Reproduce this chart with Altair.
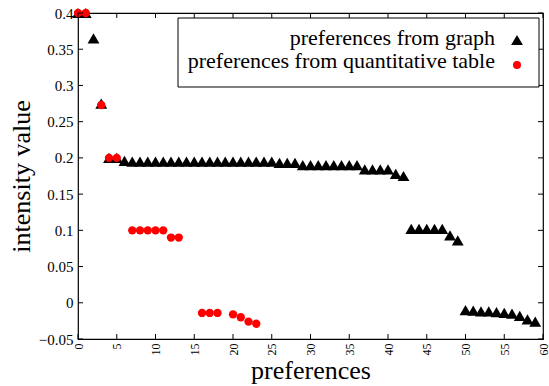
import altair as alt
import pandas as pd

# ---- data ----
graph_x = list(range(60))
graph_y = [0.4, 0.4, 0.365, 0.275, 0.2, 0.2, 0.196,
           0.195, 0.195, 0.195, 0.195, 0.195, 0.195, 0.195, 0.195, 0.195, 0.195,
           0.195, 0.195, 0.195, 0.195, 0.195, 0.195, 0.195, 0.195, 0.195,
           0.193, 0.193, 0.193,
           0.19, 0.19, 0.19, 0.19, 0.19, 0.19, 0.19, 0.19,
           0.184, 0.184, 0.184, 0.184,
           0.178, 0.175,
           0.102, 0.102, 0.102, 0.102, 0.102,
           0.093, 0.086,
           -0.01, -0.011, -0.012, -0.012, -0.013, -0.014, -0.015, -0.018, -0.023, -0.026]

table_x = [0, 1, 3, 4, 5, 7, 8, 9, 10, 11, 12, 13, 16, 17, 18, 20, 21, 22, 23]
table_y = [0.4, 0.4, 0.273, 0.2, 0.2, 0.1, 0.1, 0.1, 0.1, 0.1, 0.09, 0.09,
           -0.014, -0.014, -0.014, -0.016, -0.02, -0.026, -0.029]

x_ticks = list(range(0, 61, 5))
y_ticks = [-0.05, 0.0, 0.05, 0.1, 0.15, 0.2, 0.25, 0.3, 0.35, 0.4]
legend_labels = ["preferences from graph", "preferences from quantitative table"]

FONT = "Liberation Serif"
W, H = 465, 326

graph_df = pd.DataFrame({"x": graph_x, "y": graph_y})
table_df = pd.DataFrame({"x": table_x, "y": table_y})
xt_df = pd.DataFrame({"x": x_ticks})
yt_df = pd.DataFrame({"y": y_ticks})

xscale = alt.Scale(domain=[0, 60], nice=False, zero=False)
yscale = alt.Scale(domain=[-0.05, 0.4], nice=False, zero=False)

xaxis = alt.Axis(values=x_ticks, labelAngle=-90, labelFont=FONT, labelFontSize=12,
                 labelColor="black", ticks=False, tickSize=0, domain=False, grid=False,
                 labelPadding=4, labelFlush=False, labelOverlap=False,
                 title="preferences",
                 titleFont=FONT, titleFontSize=26, titleFontWeight="normal",
                 titleColor="black", titleBaseline="alphabetic", titleY=39)
yaxis = alt.Axis(values=y_ticks, labelFont=FONT, labelFontSize=15, labelColor="black",
                 ticks=False, tickSize=0, domain=False, grid=False, labelPadding=5,
                 labelFlush=False, labelOverlap=False, format="~g",
                 title="intensity value", titleFont=FONT, titleFontSize=26,
                 titleFontWeight="normal", titleColor="black",
                 titleBaseline="alphabetic", titleAngle=-90, titleX=-49, titleY=H / 2,
                 titleAlign="center")

X = alt.X("x:Q", scale=xscale, axis=xaxis)
Y = alt.Y("y:Q", scale=yscale, axis=yaxis)

graph = alt.Chart(graph_df).mark_point(shape="triangle-up", filled=True, size=140,
                                      color="black", opacity=1).encode(x=X, y=Y)
table = alt.Chart(table_df).mark_point(shape="circle", filled=True, size=70,
                                      color="#ff0000", opacity=1).encode(x=X, y=Y)

tick_len = 5
xt_bottom = alt.Chart(xt_df).mark_rule(color="black", strokeWidth=1).encode(
    x=X, y=alt.value(H), y2=alt.value(H - tick_len))
xt_top = alt.Chart(xt_df).mark_rule(color="black", strokeWidth=1).encode(
    x=X, y=alt.value(0), y2=alt.value(tick_len))
yt_left = alt.Chart(yt_df).mark_rule(color="black", strokeWidth=1).encode(
    y=Y, x=alt.value(0), x2=alt.value(tick_len))
yt_right = alt.Chart(yt_df).mark_rule(color="black", strokeWidth=1).encode(
    y=Y, x=alt.value(W), x2=alt.value(W - tick_len))

one = pd.DataFrame({"k": [0]})
leg_box = alt.Chart(one).mark_rect(fill="white", stroke="black", strokeWidth=1).encode(
    x=alt.value(100), x2=alt.value(461), y=alt.value(5), y2=alt.value(74))
leg_t1 = alt.Chart(one).mark_text(align="right", baseline="alphabetic", font=FONT,
                                  fontSize=22, color="black", text=legend_labels[0]).encode(
    x=alt.value(417), y=alt.value(32))
leg_t2 = alt.Chart(one).mark_text(align="right", baseline="alphabetic", font=FONT,
                                  fontSize=22, color="black", text=legend_labels[1]).encode(
    x=alt.value(417), y=alt.value(55))
leg_s1 = alt.Chart(one).mark_point(shape="triangle-up", filled=True, size=140,
                                   color="black", opacity=1).encode(
    x=alt.value(439), y=alt.value(27))
leg_s2 = alt.Chart(one).mark_point(shape="circle", filled=True, size=64,
                                   color="#ff0000", opacity=1).encode(
    x=alt.value(439), y=alt.value(52))

chart = alt.layer(
    graph, table, xt_bottom, xt_top, yt_left, yt_right,
    leg_box, leg_t1, leg_t2, leg_s1, leg_s2,
).properties(
    width=W, height=H,
    padding={"left": 78, "top": 13, "right": 6, "bottom": 47},
    autosize="none",
    background="white",
).configure_view(stroke="black", strokeWidth=1.2
).configure_axis(labelFont=FONT, titleFont=FONT)

chart.save("out.html", embed_options={"renderer": "svg", "actions": False})
